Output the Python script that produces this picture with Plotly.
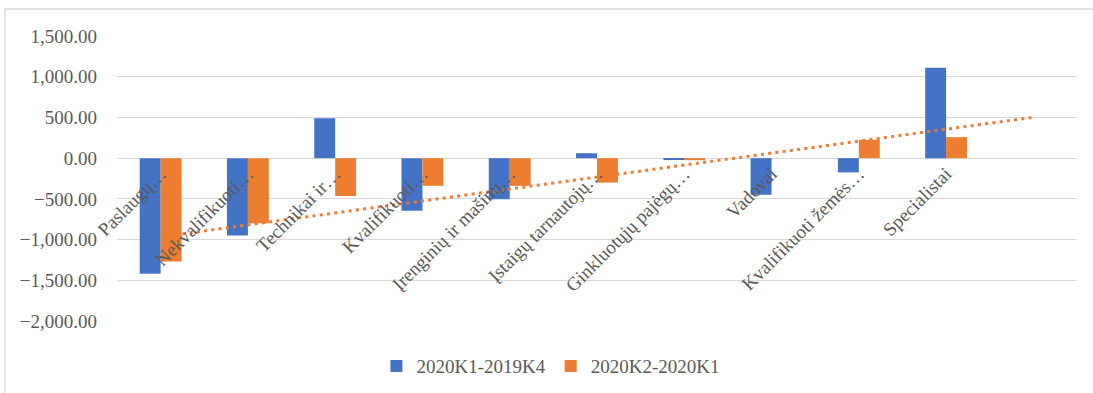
import numpy as np
import plotly.graph_objects as go

# Occupational groups (the last slot stays empty; the trend is projected into it)
categories = [
    "Paslaugų…",
    "Nekvalifikuoti…",
    "Technikai ir…",
    "Kvalifikuoti…",
    "Įrenginių ir mašinų…",
    "Įstaigų tarnautojų…",
    "Ginkluotųjų pajėgų…",
    "Vadovai",
    "Kvalifikuoti žemės…",
    "Specialistai",
]
series_names = ["2020K1-2019K4", "2020K2-2020K1"]
change_q1 = [-1420, -950, 490, -645, -505, 60, -15, -450, -175, 1110]
change_q2 = [-1270, -800, -465, -340, -340, -300, -25, 0, 225, 258]
y_ticks = [1500, 1000, 500, 0, -500, -1000, -1500, -2000]

BLUE = "#4472C4"
ORANGE = "#ED7D31"
GRID = "#D9D9D9"
TEXT = "#595959"
FONT = "Liberation Serif"

n_slots = len(categories) + 1
x_pos = list(range(len(categories)))

# Linear trend of the second series, extended one period forward
coef = np.polyfit(np.arange(1, len(change_q2) + 1), change_q2, 1)
trend_x = list(range(n_slots))
trend_y = np.polyval(coef, np.arange(1, n_slots + 1))

fig = go.Figure()
fig.add_trace(go.Bar(x=x_pos, y=change_q1, name=series_names[0],
                     marker=dict(color=BLUE, line=dict(width=0))))
fig.add_trace(go.Bar(x=x_pos, y=change_q2, name=series_names[1],
                     marker=dict(color=ORANGE, line=dict(width=0))))
fig.add_trace(go.Scatter(x=trend_x, y=trend_y, mode="lines", showlegend=False,
                         line=dict(color=ORANGE, width=3, dash="3px,4.3px"),
                         hoverinfo="skip"))

y_min, y_max = -2000, 1500
zero_frac = (0 - y_min) / (y_max - y_min)

fig.update_layout(
    width=1093, height=393,
    margin=dict(l=117, r=16, t=36, b=72, autoexpand=False),
    paper_bgcolor="white", plot_bgcolor="white",
    barmode="group", bargap=0.52, bargroupgap=0,
    font=dict(family=FONT, size=19, color=TEXT),
    legend=dict(orientation="h", x=0.452, xanchor="center", y=-0.092, yanchor="top",
                font=dict(family=FONT, size=19, color=TEXT),
                itemwidth=30, tracegroupgap=0),
    xaxis=dict(
        range=[-0.5, n_slots - 0.5],
        tickmode="array", tickvals=x_pos, ticktext=categories,
        tickangle=-45, showgrid=False, zeroline=False, showline=False,
        ticks="", anchor="free", position=zero_frac, automargin=False,
        tickfont=dict(family=FONT, size=19, color=TEXT),
        fixedrange=True,
    ),
    yaxis=dict(
        range=[y_min, y_max], tickmode="array", tickvals=y_ticks,
        tickformat=",.2f", showgrid=True, gridcolor=GRID, gridwidth=1.3,
        zeroline=True, zerolinecolor=GRID, zerolinewidth=1.3,
        showline=False, ticks="", ticklabelstandoff=19, automargin=False,
        tickfont=dict(family=FONT, size=19, color=TEXT),
        fixedrange=True,
    ),
    shapes=[dict(type="rect", xref="paper", yref="paper",
                 x0=(5 - 117) / 960, x1=(1105 - 117) / 960,
                 y0=(321 - 405) / 285, y1=(321 - 9) / 285,
                 line=dict(color=GRID, width=1.3), fillcolor="rgba(0,0,0,0)",
                 layer="below")],
)

fig.write_html("out.html")
